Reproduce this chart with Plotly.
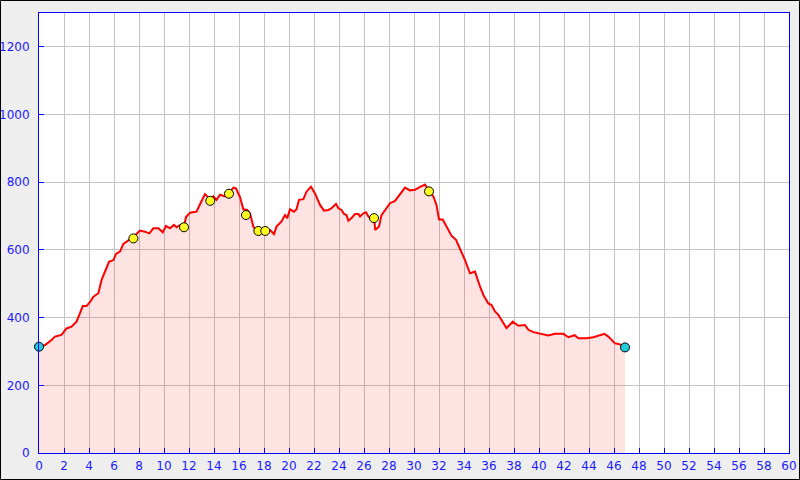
import plotly.graph_objects as go

# Elevation profile: distance (km) and altitude (m)
distance = [0, 0.48, 1.0, 1.28, 1.8, 2.2, 2.6, 3.0, 3.28, 3.5, 3.8, 4.1, 4.35, 4.75, 5.0, 5.28, 5.6, 5.95,
            6.16, 6.48, 6.75, 7.15, 7.55, 7.8, 8.08, 8.48, 8.83, 9.15, 9.55, 9.9, 10.16, 10.48, 10.8, 11.0,
            11.3, 11.6, 11.76, 12.08, 12.6, 12.88, 13.28, 13.68, 13.95, 14.2, 14.48, 14.88, 15.2, 15.55,
            15.76, 16.08, 16.35, 16.66, 16.88, 17.15, 17.36, 17.55, 17.8, 18.1, 18.48, 18.8, 19.0, 19.4,
            19.68, 19.86, 20.08, 20.4, 20.6, 20.8, 21.15, 21.4, 21.76, 22.08, 22.48, 22.8, 23.15, 23.4,
            23.76, 23.95, 24.2, 24.4, 24.6, 24.75, 25.0, 25.28, 25.55, 25.68, 25.95, 26.16, 26.35, 26.6,
            26.8, 26.9, 27.2, 27.4, 27.8, 28.08, 28.48, 28.88, 29.28, 29.68, 30.08, 30.5, 30.88, 31.2,
            31.55, 31.8, 32.0, 32.3, 32.6, 33.0, 33.36, 33.68, 34.08, 34.48, 34.88, 35.28, 35.55, 35.95,
            36.2, 36.48, 36.75, 37.0, 37.4, 37.9, 38.35, 38.88, 39.15, 39.55, 39.95, 40.75, 41.28, 41.95,
            42.35, 42.85, 43.15, 43.8, 44.35, 44.88, 45.23, 45.55, 46.08, 46.48, 46.88]
altitude = [314, 319, 334, 344, 349, 368, 373, 388, 413, 434, 434, 447, 462, 472, 511, 536, 565, 570,
            588, 595, 618, 628, 636, 647, 657, 654, 649, 664, 664, 652, 671, 664, 674, 667,
            674, 669, 697, 710, 713, 735, 765, 750, 758, 748, 763, 758, 768, 784,
            782, 756, 720, 718, 708, 669, 657, 658, 661, 658, 659, 647, 669, 684,
            703, 694, 720, 713, 720, 748, 750, 772, 787, 767, 733, 716, 718, 723,
            736, 723, 718, 706, 703, 686, 694, 706, 706, 699, 708, 711, 699, 689,
            696, 659, 669, 703, 723, 738, 745, 763, 784, 776, 778, 786, 793, 775,
            758, 733, 690, 690, 669, 642, 630, 605, 570, 531, 536, 492, 467, 442,
            437, 418, 408, 393, 369, 388, 376, 378, 364, 357, 354, 347, 352, 352,
            342, 348, 339, 339, 342, 347, 352, 344, 324, 321, 312]

# Waypoints
waypoint_x = [7.55, 11.6, 13.7, 15.2, 16.56, 17.55, 18.1, 26.8, 31.2]
waypoint_y = [634, 667, 745, 766, 703, 656, 656, 694, 773]

# Start / end
endpoint_x = [0, 46.88]
endpoint_y = [314, 312]

x_ticks = list(range(0, 61, 2))
y_ticks = list(range(0, 1201, 200))

fig = go.Figure()
fig.add_trace(go.Scatter(x=distance, y=altitude, mode="lines", fill="tozeroy",
                         line=dict(color="#ff0000", width=2),
                         fillcolor="rgba(255,0,0,0.11)", showlegend=False, hoverinfo="skip"))
fig.add_trace(go.Scatter(x=waypoint_x, y=waypoint_y, mode="markers",
                         marker=dict(color="#ffff22", size=9, line=dict(color="black", width=1)),
                         showlegend=False))
fig.add_trace(go.Scatter(x=endpoint_x, y=endpoint_y, mode="markers",
                         marker=dict(color="#22ccdd", size=9, line=dict(color="black", width=1)),
                         showlegend=False, cliponaxis=False))

axis_common = dict(showline=True, linecolor="#0000ff", linewidth=1, mirror=True,
                   ticks="inside", ticklen=5, tickcolor="#0000ff", tickwidth=1,
                   showgrid=True, gridcolor="#c4c4c4", gridwidth=1, zeroline=False,
                   automargin=False,
                   tickfont=dict(family="DejaVu Sans", size=12, color="#1a1aff"))

fig.update_layout(
    template="none",
    width=800, height=480,
    margin=dict(l=39, r=11, t=13, b=27, pad=0),
    paper_bgcolor="#eeeeee", plot_bgcolor="#ffffff",
    xaxis=dict(range=[0, 60], tickvals=x_ticks, ticktext=[str(v) for v in x_ticks],
               ticklabelstandoff=2, **axis_common),
    yaxis=dict(range=[0, 1300], tickvals=y_ticks, ticktext=[str(v) for v in y_ticks],
               ticklabelstandoff=6, **axis_common),
    shapes=[dict(type="rect", xref="paper", yref="paper",
                 x0=-39/750 + 0.5/750, x1=1 + 11/750 - 0.5/750,
                 y0=-27/440 + 0.5/440, y1=1 + 13/440 - 0.5/440,
                 line=dict(color="black", width=1), layer="above")],
)

fig.write_html("out.html", config={"displayModeBar": False},
               post_script="document.body.style.margin='0';document.body.style.overflow='hidden';")
